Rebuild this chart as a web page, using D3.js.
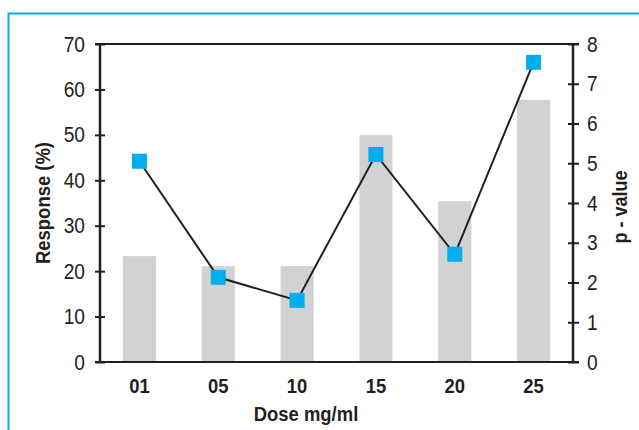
<!DOCTYPE html>
<html>
<head>
<meta charset="utf-8">
<script src="https://cdn.jsdelivr.net/npm/d3@7"></script>
<style>
  body { margin: 0; background: #fff; }
  svg text { font-family: "Liberation Sans Narrow", "Arial Narrow", "Liberation Sans", Arial, sans-serif; fill: #231f20; }
</style>
</head>
<body>
<div class="vis"></div>
<script>
var w = 639;
var h = 430;

// Data
var doses = ["01", "05", "10", "15", "20", "25"];
var response = [23.3, 21.1, 21.1, 50.0, 35.4, 57.7];
var pValues = [5.05, 2.13, 1.55, 5.22, 2.71, 7.54];
var leftTicks = [0, 10, 20, 30, 40, 50, 60, 70];
var rightTicks = [0, 1, 2, 3, 4, 5, 6, 7, 8];

var margin = { top: 44, right: 66, bottom: 68, left: 100 };
var innerW = w - margin.left - margin.right;
var innerH = h - margin.top - margin.bottom;

var ink = "#231f20";
var squeeze = 0.87; // fake a condensed face

//Create SVG element
var svg = d3.select(".vis")
    .append("svg")
    .attr("width", w)
    .attr("height", h);

// Blue frame (runs off the right and bottom edges)
svg.append("path")
    .attr("d", "M8.5," + h + "V13.5H" + w)
    .attr("fill", "none")
    .attr("stroke", "#00aeef")
    .attr("stroke-width", 2);

var g = svg.append("g")
    .attr("transform", "translate(" + margin.left + "," + margin.top + ")");

// Scales
var x = d3.scaleBand()
    .domain(doses)
    .range([0, innerW]);

var barW = x.bandwidth() * 0.42;

var yLeft = d3.scaleLinear()
    .domain([0, 70])
    .range([innerH, 0]);

var yRight = d3.scaleLinear()
    .domain([0, 8])
    .range([innerH, 0]);

var cx = d => x(d) + x.bandwidth() / 2;

// Bars
g.selectAll("rect.bar")
    .data(doses)
    .enter()
    .append("rect")
    .attr("class", "bar")
    .attr("x", d => cx(d) - barW / 2)
    .attr("width", barW)
    .attr("y", (d, i) => yLeft(response[i]))
    .attr("height", (d, i) => innerH - yLeft(response[i]))
    .attr("fill", "#d1d2d4");

// Line
var line = d3.line()
    .x((d, i) => cx(doses[i]))
    .y(d => yRight(d));

g.append("path")
    .datum(pValues)
    .attr("d", line)
    .attr("fill", "none")
    .attr("stroke", ink)
    .attr("stroke-width", 2);

// Square markers
var ms = 15;
g.selectAll("rect.marker")
    .data(pValues)
    .enter()
    .append("rect")
    .attr("class", "marker")
    .attr("x", (d, i) => cx(doses[i]) - ms / 2)
    .attr("y", d => yRight(d) - ms / 2)
    .attr("width", ms)
    .attr("height", ms)
    .attr("fill", "#00aeef");

// Frame lines top and bottom
g.append("line")
    .attr("x1", -5).attr("x2", innerW + 6)
    .attr("y1", 0).attr("y2", 0)
    .attr("stroke", ink).attr("stroke-width", 2);
g.append("line")
    .attr("x1", -5).attr("x2", innerW + 6)
    .attr("y1", innerH).attr("y2", innerH)
    .attr("stroke", ink).attr("stroke-width", 2);

// Left axis
var leftAxis = g.append("g")
    .call(d3.axisLeft(yLeft).tickValues(leftTicks).tickSize(5));
leftAxis.select(".domain").remove();
leftAxis.selectAll(".tick line").attr("x2", 5).attr("x1", -5).attr("stroke", ink).attr("stroke-width", 2);
leftAxis.selectAll(".tick text")
    .attr("x", null)
    .attr("transform", "translate(-15,0) scale(" + squeeze + ",1)");
g.append("line")
    .attr("x1", 0).attr("x2", 0).attr("y1", -1).attr("y2", innerH + 1)
    .attr("stroke", ink).attr("stroke-width", 2.5);

// Right axis
var rightAxis = g.append("g")
    .attr("transform", "translate(" + innerW + ",0)")
    .call(d3.axisRight(yRight).tickValues(rightTicks).tickSize(6));
rightAxis.select(".domain").remove();
rightAxis.selectAll(".tick line").attr("x1", -5).attr("x2", 6).attr("stroke", ink).attr("stroke-width", 2);
rightAxis.selectAll(".tick text")
    .attr("x", null)
    .attr("transform", "translate(14,0) scale(" + squeeze + ",1)");
g.append("line")
    .attr("x1", innerW).attr("x2", innerW).attr("y1", -1).attr("y2", innerH + 1)
    .attr("stroke", ink).attr("stroke-width", 2.5);

svg.selectAll(".tick text")
    .attr("font-size", 22)
    .attr("font-family", null)
    .attr("fill", ink);

// X labels
g.selectAll("text.xlab")
    .data(doses)
    .enter()
    .append("text")
    .attr("class", "xlab")
    .attr("transform", d => "translate(" + cx(d) + "," + (innerH + 31) + ") scale(0.9,1)")
    .attr("text-anchor", "middle")
    .attr("font-size", 20.5)
    .attr("font-weight", "bold")
    .text(d => d);

// Axis titles
svg.append("text")
    .attr("transform", "translate(306,421) scale(0.9,1)")
    .attr("text-anchor", "middle")
    .attr("font-size", 20.5)
    .attr("font-weight", "bold")
    .text("Dose mg/ml");

svg.append("text")
    .attr("transform", "translate(50,203) rotate(-90) scale(0.9,1)")
    .attr("text-anchor", "middle")
    .attr("font-size", 20.5)
    .attr("font-weight", "bold")
    .text("Response (%)");

svg.append("text")
    .attr("transform", "translate(627,207) rotate(-90) scale(0.88,1)")
    .attr("text-anchor", "middle")
    .attr("font-size", 20.5)
    .attr("font-weight", "bold")
    .text("p - value");
</script>
</body>
</html>
